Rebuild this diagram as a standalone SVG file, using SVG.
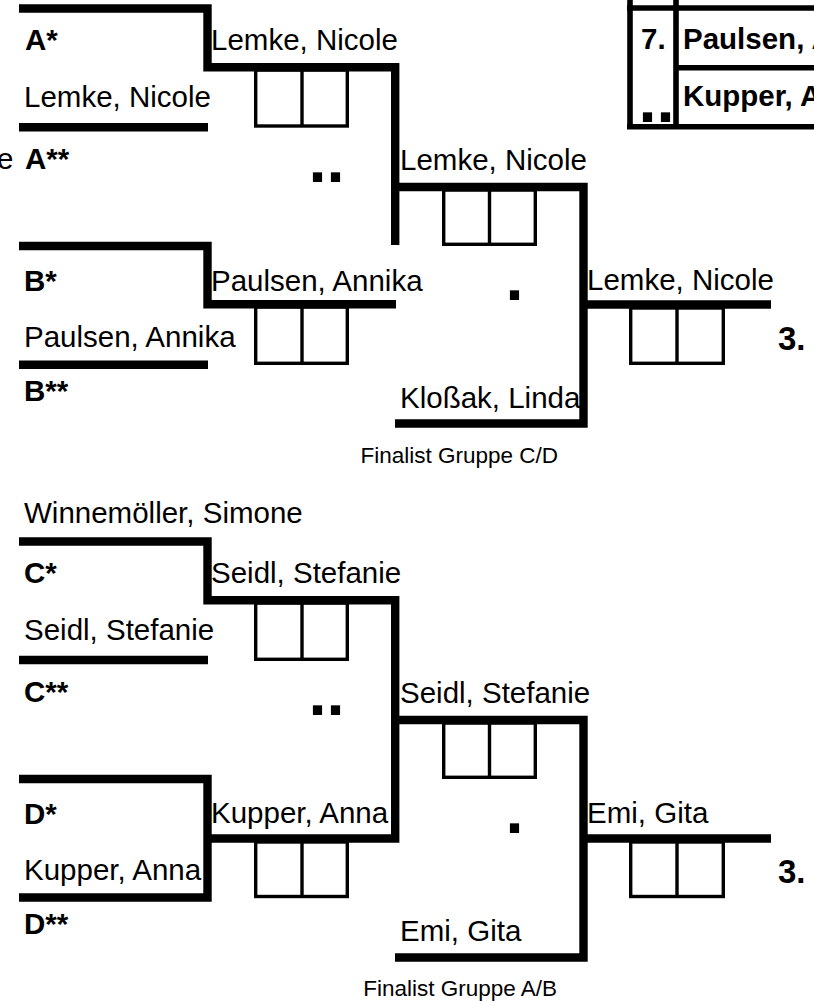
<svg xmlns="http://www.w3.org/2000/svg" width="814" height="1001" viewBox="0 0 814 1001">
<style>
.ln{fill:none;stroke:#000;stroke-width:8.4;stroke-linejoin:miter;stroke-linecap:butt}
.tb{fill:none;stroke:#000;stroke-width:5.6;stroke-linecap:butt}
.bx{fill:none;stroke:#000;stroke-width:3.4}
.t{font-family:"Liberation Sans",Arial,sans-serif;font-size:29.5px;fill:#000}
.b{font-family:"Liberation Sans",Arial,sans-serif;font-size:29.5px;font-weight:bold;fill:#000}
.r{font-family:"Liberation Sans",Arial,sans-serif;font-size:33px;font-weight:bold;fill:#000}
.d{font-family:"Liberation Sans",Arial,sans-serif;font-size:65px;font-weight:bold;fill:#000}
.s{font-family:"Liberation Sans",Arial,sans-serif;font-size:22.5px;fill:#000}
</style>
<rect width="814" height="1001" fill="#fff"/>
<g id="connectors">
<path class="ln" d="M19,8.5 H207.5 V67.2 H395.2 V245"/>
<path class="ln" d="M19,127.2 H208"/>
<path class="ln" d="M19,246 H207.5 V304.2 H396"/>
<path class="ln" d="M19,364.7 H208"/>
<path class="ln" d="M395.2,187 H583.5 V423.5 H395"/>
<path class="ln" d="M583.5,304.5 H771"/>
<path class="ln" d="M19,541.5 H207.5 V600.2 H395.2 V838.5 H207.5"/>
<path class="ln" d="M19,660 H208"/>
<path class="ln" d="M19,779 H207.5 V897.5 H19"/>
<path class="ln" d="M395.2,720 H583.5 V957.5 H395"/>
<path class="ln" d="M583.5,838.5 H771"/>
</g>
<g id="table">
<path class="tb" d="M630,0 V129.5 M676,0 V124 M627,8 H814 M676,67.7 H814 M627,126.7 H814"/>
<text class="b" x="641" y="49">7.</text>
<text class="b" x="683" y="49">Paulsen, Annika</text>
<text class="b" x="683" y="106">Kupper, Anna</text>
<text class="d" x="638.5" y="122">..</text>
</g>
<g id="group-A">
<text class="b" x="25" y="50">A*</text>
<text class="t" x="24" y="107">Lemke, Nicole</text>
<text class="t" x="-3" y="169">e</text>
<text class="b" x="25" y="169">A**</text>
</g>
<g id="match-AB1">
<text class="t" x="211" y="50">Lemke, Nicole</text>
<rect class="bx" x="255.7" y="70" width="91.6" height="56"/>
<line class="bx" x1="302" y1="70" x2="302" y2="126"/>
<text class="d" x="308.5" y="182">..</text>
</g>
<g id="group-B">
<text class="b" x="24" y="291">B*</text>
<text class="t" x="24" y="347">Paulsen, Annika</text>
<text class="b" x="24" y="401">B**</text>
</g>
<g id="match-AB2">
<text class="t" x="211" y="291">Paulsen, Annika</text>
<rect class="bx" x="255.7" y="307" width="91.6" height="56.3"/>
<line class="bx" x1="302" y1="307" x2="302" y2="363.3"/>
</g>
<g id="semifinal-AB">
<text class="t" x="400" y="170">Lemke, Nicole</text>
<rect class="bx" x="443.7" y="190" width="91.6" height="54.3"/>
<line class="bx" x1="489.5" y1="190" x2="489.5" y2="244.3"/>
<text class="d" x="505.5" y="300">.</text>
<text class="t" x="400" y="408">Kloßak, Linda</text>
<text class="s" x="558" y="463" text-anchor="end">Finalist Gruppe C/D</text>
</g>
<g id="final-AB">
<text class="t" x="587" y="290">Lemke, Nicole</text>
<rect class="bx" x="630.7" y="308" width="92.6" height="55.3"/>
<line class="bx" x1="677" y1="308" x2="677" y2="363.3"/>
<text class="r" x="778" y="350">3.</text>
</g>
<g id="header">
<text class="t" x="24" y="523">Winnemöller, Simone</text>
</g>
<g id="group-C">
<text class="b" x="24" y="583">C*</text>
<text class="t" x="24" y="640">Seidl, Stefanie</text>
<text class="b" x="24" y="702">C**</text>
</g>
<g id="match-CD1">
<text class="t" x="211" y="583">Seidl, Stefanie</text>
<rect class="bx" x="255.7" y="603" width="91.6" height="56.3"/>
<line class="bx" x1="302" y1="603" x2="302" y2="659.3"/>
<text class="d" x="308.5" y="715">..</text>
</g>
<g id="group-D">
<text class="b" x="24" y="824">D*</text>
<text class="t" x="24" y="880">Kupper, Anna</text>
<text class="b" x="24" y="934">D**</text>
</g>
<g id="match-CD2">
<text class="t" x="211" y="823">Kupper, Anna</text>
<rect class="bx" x="255.7" y="842" width="91.6" height="54.5"/>
<line class="bx" x1="302" y1="842" x2="302" y2="898"/>
</g>
<g id="semifinal-CD">
<text class="t" x="400" y="703">Seidl, Stefanie</text>
<rect class="bx" x="443.7" y="723" width="91.6" height="54.3"/>
<line class="bx" x1="489.5" y1="723" x2="489.5" y2="777.3"/>
<text class="d" x="505.5" y="833">.</text>
<text class="t" x="400" y="941">Emi, Gita</text>
<text class="s" x="557" y="996" text-anchor="end">Finalist Gruppe A/B</text>
</g>
<g id="final-CD">
<text class="t" x="587" y="823">Emi, Gita</text>
<rect class="bx" x="630.7" y="842" width="92.6" height="54.5"/>
<line class="bx" x1="677" y1="842" x2="677" y2="896.5"/>
<text class="r" x="778" y="883">3.</text>
</g>
</svg>
